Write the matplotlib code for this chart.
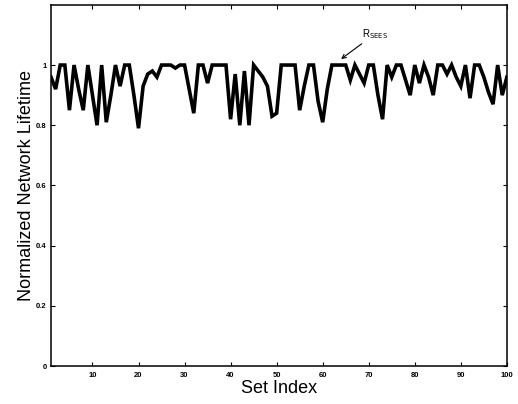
import numpy as np
import matplotlib
matplotlib.use("Agg")
import matplotlib.pyplot as plt

plt.rcParams["font.family"] = ["Liberation Sans", "DejaVu Sans"]

# set index 1..100 and normalized lifetime
set_index = np.arange(1, 101)
lifetime = [
    0.96, 0.92, 1.00, 1.00, 0.85, 1.00, 0.92, 0.85, 1.00, 0.90,
    0.80, 1.00, 0.81, 0.90, 1.00, 0.93, 1.00, 1.00, 0.90, 0.79,
    0.93, 0.97, 0.98, 0.96, 1.00, 1.00, 1.00, 0.99, 1.00, 1.00,
    0.92, 0.84, 1.00, 1.00, 0.94, 1.00, 1.00, 1.00, 1.00, 0.82,
    0.97, 0.80, 0.98, 0.80, 1.00, 0.98, 0.96, 0.93, 0.83, 0.84,
    1.00, 1.00, 1.00, 1.00, 0.85, 0.93, 1.00, 1.00, 0.88, 0.81,
    0.92, 1.00, 1.00, 1.00, 1.00, 0.95, 1.00, 0.97, 0.94, 1.00,
    1.00, 0.90, 0.82, 1.00, 0.96, 1.00, 1.00, 0.95, 0.90, 1.00,
    0.94, 1.00, 0.96, 0.90, 1.00, 1.00, 0.97, 1.00, 0.96, 0.93,
    1.00, 0.89, 1.00, 1.00, 0.96, 0.91, 0.87, 1.00, 0.90, 0.96,
]
x_ticks = [10, 20, 30, 40, 50, 60, 70, 80, 90, 100]
y_ticks = [0, 0.2, 0.4, 0.6, 0.8, 1]
y_tick_labels = ["0", "0.2", "0.4", "0.6", "0.8", "1"]

fig = plt.figure(figsize=(5.18, 4.04), dpi=100)
ax = fig.add_axes([0.0985, 0.094, 0.880, 0.894])

ax.plot(set_index, lifetime, color="black", linewidth=2.6, solid_joinstyle="miter")

ax.set_xlim(1, 100)
ax.set_ylim(0, 1.2)
ax.set_xticks(x_ticks)
ax.set_xticklabels([str(t) for t in x_ticks])
ax.set_yticks(y_ticks)
ax.set_yticklabels(y_tick_labels)
ax.tick_params(direction="in", top=True, right=True, length=3, width=0.8,
               labelsize=5.5, pad=3)
ax.tick_params(axis="x", pad=4)
for lab in ax.get_xticklabels() + ax.get_yticklabels():
    lab.set_fontweight("bold")
for sp in ax.spines.values():
    sp.set_linewidth(1.1)

ax.set_xlabel("Set Index", fontsize=13, labelpad=1)
ax.set_ylabel("Normalized Network Lifetime", fontsize=13)
ax.yaxis.set_label_coords(-0.036, 0.5)

# label with arrow pointing at the curve
ax.annotate(r"R$_{\mathrm{SEES}}$", xy=(64, 1.02), xytext=(68.5, 1.08),
            fontsize=7, ha="left", va="bottom",
            arrowprops=dict(arrowstyle="->", color="black", lw=0.8,
                            shrinkA=0, shrinkB=0))

fig.savefig("out.png", dpi=100)
